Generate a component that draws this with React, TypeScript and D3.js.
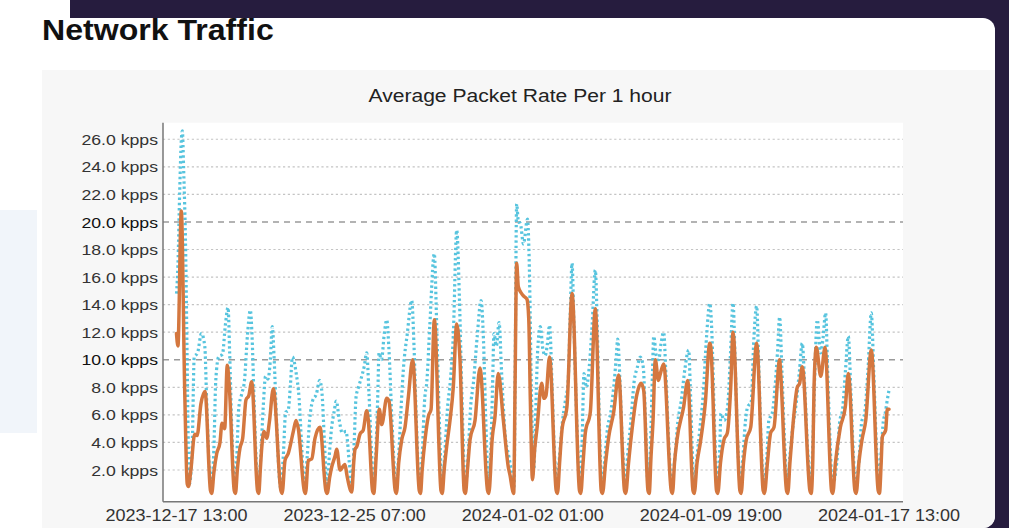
import * as d3 from "d3";

// hours after the first sample, packet rate in kpps
const startLabel = "2023-12-17 13:00";

const xTickLabels = [
  "2023-12-17 13:00",
  "2023-12-25 07:00",
  "2024-01-02 01:00",
  "2024-01-09 19:00",
  "2024-01-17 13:00",
];

const yTickValues = [2, 4, 6, 8, 10, 12, 14, 16, 18, 20, 22, 24, 26];
const thresholdValues = [10, 20];

// orange solid line: average rate
const avgRate: [number, number][] = [
  [0, 11.9], [1.5, 11.0], [5, 20.8], [8.5, 8.0], [11.2, 1.0], [12.5, 0.8],
  [15, 2.0], [19, 4.6], [21.5, 4.5], [25.5, 6.8], [29.8, 7.7], [35.5, 0.5], [36.8, 0.3],
  [39, 1.8], [42, 3.2], [45.4, 4.0], [47.5, 5.4], [50.3, 5.0], [53, 9.6], [55.1, 8.1], [60.3, 0.5], [61.6, 0.3],
  [63.5, 2.0], [66.3, 3.6], [69.1, 4.3], [72.6, 7.1], [75.5, 7.4], [78.5, 8.4], [84.6, 0.5], [85.9, 0.3],
  [87.5, 2.0], [89, 3.6], [91.4, 4.8], [94.2, 4.3], [97, 5.5], [101.1, 7.9], [109, 0.5], [110.3, 0.3],
  [113.3, 2.7], [116.7, 3.2], [122, 4.8], [124.8, 5.6], [127.2, 5.0], [133.4, 0.5], [134.7, 0.3],
  [137.6, 2.7], [141.2, 2.8], [144.6, 4.3], [149.8, 5.1], [156, 0.5], [157.3, 0.3],
  [160, 1.5], [162, 2.2], [165.5, 3.0], [167.3, 3.5], [170.7, 2.0], [175.9, 2.4], [178, 1.6], [181.8, 0.5], [183, 0.4],
  [185, 2.5], [186.4, 3.5], [188.2, 3.7], [191.6, 4.6], [195, 4.9], [198.6, 6.3], [200.3, 5.6], [204.7, 0.5], [206, 0.3],
  [208.5, 3.0], [211.8, 6.4], [214.3, 5.3], [219.5, 7.2], [221.9, 7.0], [228.4, 0.5], [229.7, 0.3],
  [232, 2.5], [235.2, 4.2], [238.6, 5.1], [242.1, 7.3], [246.6, 10.0], [253.5, 0.5], [254.8, 0.3],
  [256.5, 2.0], [259.5, 4.2], [263, 5.9], [265.8, 6.4], [269.2, 12.9], [276.2, 0.5], [277.5, 0.3],
  [279.5, 2.0], [282.1, 3.7], [285.6, 5.6], [289, 8.0], [292.6, 12.6], [296, 10.0], [300.4, 0.5], [301.7, 0.3],
  [303.8, 2.0], [306.5, 4.2], [311.7, 5.6], [316.9, 9.4], [324.8, 0.5], [326.1, 0.3],
  [328, 2.0], [329.1, 3.7], [332.6, 5.9], [336, 9.0], [341.3, 5.6], [346.5, 2.2], [348.3, 1.6], [351, 0.5], [352.1, 0.3],
  [353.5, 8.0], [355.2, 17.0], [356.9, 15.3], [360.4, 14.8], [362.8, 14.6], [365.9, 14.4], [367.8, 13.0], [369.5, 7.0], [371.7, 1.3],
  [374, 3.5], [376.4, 5.0], [381.3, 8.3], [383.7, 7.2], [385.8, 7.4], [389.5, 10.2], [396.5, 0.5], [397.8, 0.3],
  [400, 2.5], [402.5, 4.9], [407.7, 6.6], [413, 14.8], [420.8, 0.5], [422.1, 0.3],
  [424.5, 2.5], [426.9, 4.7], [432.1, 6.2], [437.3, 13.7], [443.5, 0.5], [444.8, 0.3],
  [448, 2.5], [451.3, 4.4], [456.5, 6.2], [461.7, 8.9], [467.8, 0.5], [469.1, 0.3],
  [472, 2.5], [475.6, 4.9], [480.8, 7.5], [485, 8.3], [487.8, 7.8], [492.3, 0.5], [493.6, 0.3],
  [495.5, 3.0], [497.6, 5.6], [500, 10.0], [503.2, 8.5], [504.9, 8.9], [508.7, 9.7], [516.6, 0.5], [517.9, 0.3],
  [520, 2.5], [522.6, 4.2], [529.6, 6.6], [533.8, 8.5], [539.3, 0.5], [540.6, 0.3],
  [543.5, 2.5], [547, 4.0], [552.2, 6.9], [556.8, 11.2], [557.8, 11.0], [563.9, 0.5], [565.2, 0.3],
  [568, 2.5], [571.7, 4.2], [575.2, 4.7], [578.7, 8.0], [581.1, 12.0], [588.3, 0.5], [589.6, 0.3],
  [592, 2.5], [595, 4.2], [599.6, 5.1], [605.8, 11.2], [612.6, 0.5], [613.9, 0.3],
  [617, 2.5], [620.4, 4.7], [623.9, 5.1], [629.8, 10.0], [630.9, 9.0], [637, 0.5], [638.3, 0.3],
  [640.5, 2.5], [643, 4.7], [648.2, 8.0], [650.7, 8.3], [653.4, 9.5], [661.4, 0.5], [662.7, 0.3],
  [664.5, 3.0], [665.7, 8.0], [668.1, 10.9], [672.7, 8.8], [677.2, 10.9], [684, 0.5], [685.3, 0.3],
  [688, 2.5], [693.2, 5.1], [698.4, 6.6], [701.5, 9.0], [708.4, 0.5], [709.7, 0.3],
  [712.5, 2.5], [715.8, 4.2], [719.7, 5.6], [725.5, 10.7], [732.7, 0.5], [734, 0.3],
  [735.8, 2.5], [737, 4.4], [740.5, 4.9], [742.2, 6.4], [744, 6.4],
];

// blue dotted line: peak rate
const peakRate: [number, number][] = [
  [0, 14.8], [1.5, 16.9], [3.3, 22.1], [5, 25.9], [6.1, 26.6], [7.5, 23.7], [9.6, 17.7], [11, 10.5], [12.5, 3.2], [13.5, 1.0],
  [16.5, 4.0], [18.5, 10.2], [22, 10.5], [26, 11.9], [29.5, 11.0], [31.5, 7.0], [34, 2.5], [36.3, 0.7],
  [39, 3.5], [41, 8.5], [44, 10.2], [48, 10.4], [51, 12.5], [53.8, 13.8], [55.5, 10.5], [57.5, 5.5], [60.8, 0.7],
  [63, 3.0], [65, 6.5], [68, 7.5], [71, 8.5], [74, 11.7], [77.1, 13.6], [79, 11.5], [81, 7.0], [85.2, 0.7],
  [88, 3.0], [90.5, 6.5], [93, 8.8], [95.5, 8.6], [98, 10.0], [100, 12.4], [102, 10.0], [104.5, 5.5], [108.8, 0.7],
  [111.5, 3.0], [114, 6.2], [116.5, 6.3], [119, 8.2], [121, 10.2], [125, 9.0], [128, 7.2], [130.5, 4.0], [133.5, 0.7],
  [136.5, 3.0], [139, 5.6], [142, 7.0], [146, 7.5], [149.5, 8.5], [152, 7.5], [154.5, 4.0], [157, 0.8],
  [160, 3.5], [162, 5.1], [164.5, 6.2], [166.9, 7.0], [170, 5.6], [173, 4.7], [177, 4.8], [180.5, 2.5], [183, 1.0],
  [185.5, 4.0], [187.5, 7.3], [190, 8.0], [193, 8.7], [196, 9.5], [198.6, 10.5], [201, 7.5], [203.5, 3.5], [206, 0.8],
  [208, 3.0], [210, 7.0], [211.5, 10.5], [214, 10.0], [217, 11.9], [219.5, 12.9], [222, 10.5], [225, 5.5], [229.5, 0.8],
  [232, 3.0], [234.5, 6.5], [237, 9.4], [241, 11.9], [245.6, 14.3], [248, 11.0], [250.5, 5.5], [254, 0.8],
  [256.5, 3.0], [259, 7.0], [261.5, 8.5], [264.5, 12.5], [269.2, 17.7], [271.5, 13.0], [274.5, 5.5], [277.5, 0.8],
  [280, 3.0], [283, 6.5], [286, 8.5], [289, 11.7], [292.6, 19.4], [295.5, 14.3], [298, 7.5], [301.5, 0.8],
  [304.5, 3.0], [307, 6.5], [310, 8.3], [314, 11.7], [318, 14.3], [320.5, 11.5], [323, 5.5], [326, 0.8],
  [328, 3.0], [330, 8.0], [331.5, 11.9], [334, 11.0], [336.8, 12.7], [339.5, 9.0], [343, 4.7], [347, 3.0], [350, 1.8], [352.5, 0.8],
  [353.5, 8.0], [355.2, 21.3], [357, 20.0], [359, 19.9], [362.3, 18.4], [366.5, 20.2], [368.5, 16.5], [370.5, 8.0], [373, 2.0],
  [375, 6.0], [377, 10.5], [379.9, 12.4], [382.5, 10.8], [385, 10.3], [387, 11.0], [389.6, 12.5], [392, 8.5], [394.5, 3.5], [397, 0.8],
  [400, 3.0], [403, 5.5], [406, 7.0], [409, 8.5], [411, 13.0], [413, 17.0], [415, 12.5], [418, 5.5], [421.5, 0.9],
  [423.5, 4.0], [425.5, 9.0], [428, 8.0], [431, 9.5], [434, 12.5], [437.3, 16.5], [439.5, 12.0], [441.5, 5.5], [444.3, 0.9],
  [447.5, 3.0], [450, 5.0], [453.5, 6.2], [456.5, 8.0], [459, 10.0], [460.7, 11.5], [463, 8.5], [465.5, 4.0], [468.6, 0.9],
  [471, 3.0], [474.5, 5.6], [478, 8.5], [481, 9.4], [484.3, 10.2], [487.5, 9.4], [489.5, 6.0], [492.5, 0.9],
  [495, 4.0], [497, 9.0], [498.3, 11.7], [501, 10.3], [503.5, 10.0], [506, 11.2], [508.7, 12.0], [511, 9.0], [514, 4.0], [517.2, 0.9],
  [520.5, 3.0], [523.5, 5.5], [527, 7.0], [531, 9.4], [534.8, 10.7], [536.5, 8.0], [538.5, 3.5], [540.1, 0.9],
  [543.5, 3.0], [546.5, 5.0], [550, 7.5], [553.5, 11.7], [556.8, 14.1], [559, 12.0], [561.5, 6.0], [564.5, 0.9],
  [567, 3.0], [568.5, 6.1], [572, 5.6], [575.5, 6.6], [578.5, 10.5], [581.1, 14.1], [583.5, 9.5], [586, 4.0], [589, 0.9],
  [591.5, 3.0], [594, 5.5], [596.5, 6.6], [600, 6.9], [603, 11.7], [605.8, 13.9], [608, 9.5], [610.5, 4.0], [613.4, 0.9],
  [616.5, 3.0], [618.5, 5.6], [622, 6.1], [625, 8.0], [627.5, 10.5], [629.8, 13.1], [632, 9.5], [635, 4.0], [637.8, 0.9],
  [640.5, 3.0], [643, 4.8], [647, 6.8], [650.5, 9.2], [653.4, 11.2], [656, 8.0], [659, 3.5], [662, 0.9],
  [664.5, 4.0], [666.5, 9.0], [669.1, 12.9], [672.5, 10.5], [675, 11.5], [677.8, 13.4], [680, 9.0], [682.5, 4.0], [684.8, 0.9],
  [690, 3.0], [692.5, 5.5], [695.5, 6.4], [698.5, 9.2], [701.5, 11.7], [704, 8.0], [706.5, 3.5], [709.2, 0.9],
  [713, 3.0], [715.5, 5.5], [718.5, 6.1], [722, 9.2], [725.5, 13.4], [728, 9.2], [731, 3.5], [733.5, 0.9],
  [736, 3.5], [738, 5.5], [740, 6.1], [742, 7.0], [744, 7.8],
];

const parseTime = d3.timeParse("%Y-%m-%d %H:%M");
const HOUR = 3600 * 1000;
const FONT = "'Liberation Sans', Arial, sans-serif";
const STRETCH = 1.14;

export default function App() {
  const width = 1009;
  const height = 528;
  const plot = { left: 163, right: 903, top: 122.7, bottom: 501.7 };

  const t0 = parseTime(startLabel) as Date;
  const toDate = (h: number) => new Date(t0.getTime() + h * HOUR);

  const x = d3
    .scaleTime()
    .domain([toDate(-14.1), toDate(758.6)])
    .range([plot.left, plot.right]);

  const y = d3
    .scaleLinear()
    .domain([-0.3, 27.2])
    .range([plot.bottom, plot.top]);

  const line = d3
    .line<[number, number]>()
    .x((d) => x(toDate(d[0])))
    .y((d) => y(d[1]))
    .curve(d3.curveMonotoneX);

  const stretched = (tx: number, ty: number, s = STRETCH) =>
    `translate(${tx},${ty}) scale(${s},1)`;

  return (
    <svg
      width={width}
      height={height}
      style={{ position: "absolute", left: 0, top: 0, display: "block" }}
    >
      <defs>
        <clipPath id="cardClip">
          <rect x={-20} y={18} width={1015} height={510} rx={12} />
        </clipPath>
        <clipPath id="headClip">
          <rect x={0} y={18} width={400} height={40} />
        </clipPath>
      </defs>

      <rect x={0} y={0} width={width} height={height} fill="#ffffff" />
      <rect x={70} y={0} width={width - 70} height={height} fill="#261c3e" />

      <g clipPath="url(#cardClip)">
        <rect x={-20} y={18} width={1015} height={510} fill="#ffffff" />
        <rect x={0} y={210} width={37} height={223} fill="#f1f5fa" />
        <rect x={42} y={70} width={960} height={470} fill="#f7f7f7" />
      </g>

      <g clipPath="url(#headClip)">
        <text
          transform={stretched(42, 39.5, 1.07)}
          fontFamily={FONT}
          fontWeight="bold"
          fontSize={30}
          fill="#111"
        >
          Network Traffic
        </text>
      </g>

      <rect
        x={plot.left}
        y={plot.top}
        width={plot.right - plot.left}
        height={plot.bottom - plot.top}
        fill="#ffffff"
      />

      <text
        transform={stretched(520, 102)}
        textAnchor="middle"
        fontFamily={FONT}
        fontSize={18.5}
        fill="#222"
      >
        Average Packet Rate Per 1 hour
      </text>

      {yTickValues.map((v) => {
        const strong = thresholdValues.includes(v);
        return (
          <g key={v}>
            <line
              x1={plot.left}
              x2={plot.right}
              y1={y(v)}
              y2={y(v)}
              stroke={strong ? "#9a9a9a" : "#c4c4c4"}
              strokeWidth={strong ? 1.6 : 1.2}
              strokeDasharray={strong ? "6 5" : "2.2 2.6"}
            />
            <text
              transform={stretched(158, y(v))}
              dy="0.36em"
              textAnchor="end"
              fontFamily={FONT}
              fontSize={15.5}
              fill={strong ? "#111" : "#333"}
            >
              {`${v.toFixed(1)} kpps`}
            </text>
          </g>
        );
      })}

      <path
        d={line(peakRate) ?? ""}
        fill="none"
        stroke="#57c4de"
        strokeWidth={3.2}
        strokeDasharray="2.4 2.8"
      />
      <path
        d={line(avgRate) ?? ""}
        fill="none"
        stroke="#d4773f"
        strokeWidth={3.5}
        strokeLinejoin="round"
        strokeLinecap="round"
      />

      <line
        x1={plot.left}
        x2={plot.left}
        y1={plot.top}
        y2={plot.bottom}
        stroke="#777"
        strokeWidth={1.5}
      />
      <line
        x1={plot.left}
        x2={plot.right}
        y1={plot.bottom}
        y2={plot.bottom}
        stroke="#777"
        strokeWidth={1.5}
      />

      {xTickLabels.map((label) => {
        const d = parseTime(label) as Date;
        return (
          <text
            key={label}
            transform={stretched(x(d), 520.7)}
            textAnchor="middle"
            fontFamily={FONT}
            fontSize={15.8}
            fill="#333"
          >
            {label}
          </text>
        );
      })}
    </svg>
  );
}
